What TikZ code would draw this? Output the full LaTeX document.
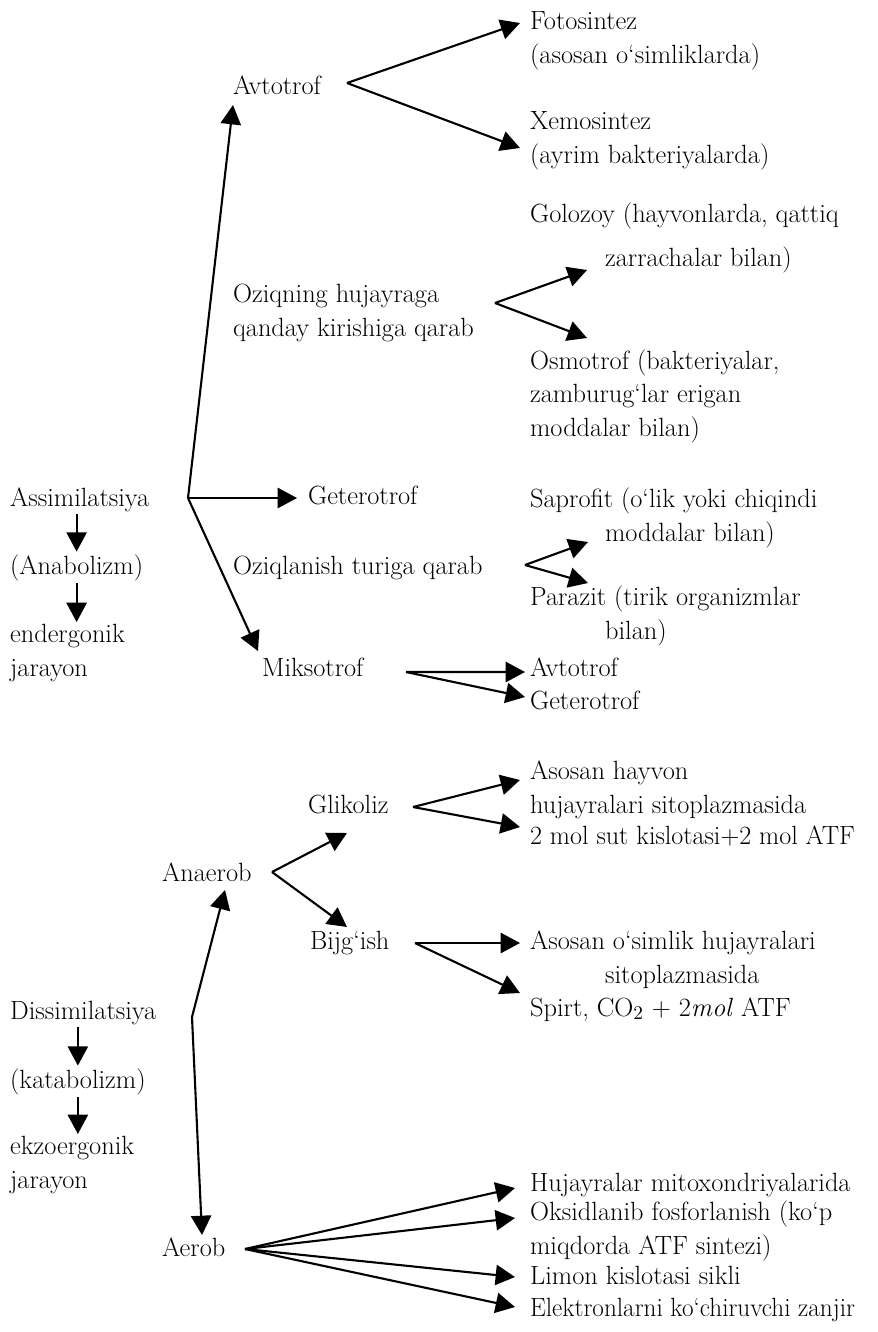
\documentclass[tikz,border=0pt]{standalone}
\usepackage{graphicx}
\usetikzlibrary{arrows.meta, positioning}

\begin{document}
\begin{tikzpicture}[
  txt/.style={anchor=base west, inner sep=0pt, outer sep=1.5pt, align=left, font=\fontsize{15}{18.8}\selectfont},
  arrow/.style={-{Triangle[length=11pt, width=11.5pt]}, line width=1.2pt}
]
  \useasboundingbox (0,0) rectangle (17.56,-26.64);

  % Assimilatsiya
  \node[txt] (ass) at (0.15, -10.12) {Assimilatsiya};
  \node[txt] (anb) at (0.15, -11.48) {(Anabolizm)};
  \node[txt] (endg) at (0.15, -13.52) {endergonik\\jarayon};
  \draw[arrow] (ass.south -| anb.north) -- (anb.north);
  \draw[arrow] (anb.south) -- (anb.south |- endg.north);

  \node[txt] (avt) at (4.61, -1.88) {Avtotrof};
  \node[txt] (ozq) at (4.61, -6.72) {Oziqning hujayraga\\qanday kirishiga qarab};
  \node[txt] (get) at (6.11, -10.08) {Geterotrof};
  \node[txt] (ozl) at (4.61, -11.48) {Oziqlanish turiga qarab};
  \node[txt] (mik) at (5.19, -13.52) {Miksotrof};

  \node[txt] (fot) at (10.55, -1.26) {Fotosintez\\(asosan o‘simliklarda)};
  \node[txt] (xem) at (10.55, -3.26) {Xemosintez\\(ayrim bakteriyalarda)};
  \node[txt] (gol) at (10.55, -5.32) {Golozoy (hayvonlarda, qattiq\\[5.7pt]\hspace*{1.5cm}zarrachalar bilan)};
  \node[txt] (osm) at (10.55, -8.72) {Osmotrof (bakteriyalar,\\zamburug‘lar erigan\\moddalar bilan)};
  \node[txt] (sap) at (10.55, -10.82) {Saprofit (o‘lik yoki chiqindi\\\hspace*{1.5cm}moddalar bilan)};
  \node[txt] (par) at (10.55, -12.78) {Parazit (tirik organizmlar\\\hspace*{1.5cm}bilan)};
  \node[txt] (mav) at (10.55, -13.52) {Avtotrof};
  \node[txt] (mge) at (10.55, -14.18) {Geterotrof};

  \coordinate (fAss) at (3.76, -9.96);
  \coordinate (fAvt) at (6.94, -1.66);
  \coordinate (fOzq) at (9.9, -6.06);
  \coordinate (fOzl) at (10.5, -11.3);
  \coordinate (fMik) at (8.12, -13.44);

  \draw[arrow] (fAss) -- ([shift={(0.05,-0.22)}]avt.base west);
  \draw[arrow] (fAss) -- ([shift={(-0.17,0.12)}]get.base west);
  \draw[arrow] (fAss) -- ([shift={(-0.03,0.5)}]mik.base west);
  \draw[arrow] (fAvt) -- ([shift={(-0.15,0.8)}]fot.base west);
  \draw[arrow] (fAvt) -- ([shift={(-0.15,0.3)}]xem.base west);
  \draw[arrow] (fOzq) -- ([shift={(1.19,-0.08)}]gol.base west);
  \draw[arrow] (fOzq) -- ([shift={(1.19,1.96)}]osm.base west);
  \draw[arrow] (fOzl) -- ([shift={(1.21,-0.02)}]sap.base west);
  \draw[arrow] (fOzl) -- ([shift={(1.21,1.12)}]par.base west);
  \draw[arrow] (fMik) -- ([shift={(-0.05,0.08)}]mav.base west);
  \draw[arrow] (fMik) -- ([shift={(-0.05,0.24)}]mge.base west);

  % Dissimilatsiya
  \node[txt] (dis) at (0.15, -20.38) {Dissimilatsiya};
  \node[txt] (kat) at (0.15, -21.76) {(katabolizm)};
  \node[txt] (ekz) at (0.15, -23.76) {ekzoergonik\\jarayon};
  \draw[arrow] (dis.south -| kat.north) -- (kat.north);
  \draw[arrow] (kat.south) -- (kat.south |- ekz.north);

  \node[txt] (ane) at (3.19, -17.62) {Anaerob};
  \node[txt] (aer) at (3.19, -25.12) {Aerob};
  \node[txt] (gli) at (6.11, -16.26) {Glikoliz};
  \node[txt] (bij) at (6.15, -18.98) {Bijg‘ish};

  \node[txt] (hay) at (10.55, -16.26) {Asosan hayvon\\hujayralari sitoplazmasida};
  \node[txt] (gmol) at (10.55, -16.88) {\scalebox{0.99}[1]{2 mol sut kislotasi+2 mol ATF}};
  \node[txt] (osi) at (10.55, -19.66) {Asosan o‘simlik hujayralari\\\hspace*{1.5cm}sitoplazmasida};
  \node[txt] (spi) at (10.55, -20.32) {Spirt, CO$_2$ + 2\textit{mol} ATF};
  \node[txt] (mit) at (10.55, -23.82) {Hujayralar mitoxondriyalarida};
  \node[txt] (oks) at (10.55, -25.08) {Oksidlanib fosforlanish (ko‘p\\miqdorda ATF sintezi)};
  \node[txt] (lim) at (10.55, -25.68) {Limon kislotasi sikli};
  \node[txt] (ele) at (10.55, -26.32) {\scalebox{0.955}[1]{Elektronlarni ko‘chiruvchi zanjir}};

  \coordinate (fDis) at (3.84, -20.34);
  \coordinate (fAne) at (5.44, -17.44);
  \coordinate (fGli) at (8.26, -16.14);
  \coordinate (fBij) at (8.3, -18.86);
  \coordinate (fAer) at (4.9, -24.98);

  \draw[arrow] (fDis) -- ([shift={(1.31,-0.18)}]ane.base west);
  \draw[arrow] (fDis) -- ([shift={(0.85,0.42)}]aer.base west);
  \draw[arrow] (fAne) -- ([shift={(0.83,-0.4)}]gli.base west);
  \draw[arrow] (fAne) -- ([shift={(0.79,0.44)}]bij.base west);
  \draw[arrow] (fGli) -- ([shift={(-0.15,0.66)}]hay.base west);
  \draw[arrow] (fGli) -- ([shift={(-0.15,0.34)}]gmol.base west);
  \draw[arrow] (fBij) -- ([shift={(-0.15,0.8)}]osi.base west);
  \draw[arrow] (fBij) -- ([shift={(-0.15,0.46)}]spi.base west);
  \draw[arrow] (fAer) -- ([shift={(-0.25,0.06)}]mit.base west);
  \draw[arrow] (fAer) -- ([shift={(-0.25,0.72)}]oks.base west);
  \draw[arrow] (fAer) -- ([shift={(-0.25,0.14)}]lim.base west);
  \draw[arrow] (fAer) -- ([shift={(-0.25,0.18)}]ele.base west);
\end{tikzpicture}
\end{document}
